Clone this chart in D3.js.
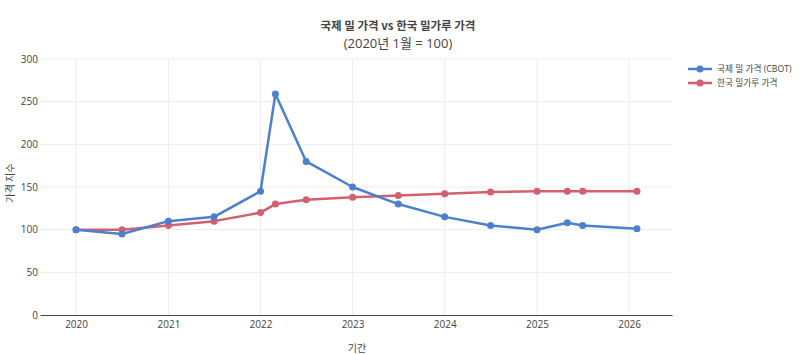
<!DOCTYPE html>
<html>
<head>
<meta charset="utf-8">
<script src="https://cdn.jsdelivr.net/npm/d3@7"></script>
<style>
  body { margin: 0; background: #fff; }
  svg text { font-family: "Open Sans", "Noto Sans CJK KR", sans-serif; fill: #444; }
  svg text.kr { font-family: "Noto Sans CJK KR", "Open Sans", sans-serif; }
</style>
</head>
<body>
<div id="chart"></div>
<script>
// data
var dates = ["2020-01", "2020-07", "2021-01", "2021-07", "2022-01", "2022-03", "2022-07",
  "2023-01", "2023-07", "2024-01", "2024-07", "2025-01", "2025-05", "2025-07", "2026-02"];
var cbot = [100, 95, 110, 115, 145, 259, 180, 150, 130, 115, 105, 100, 108, 105, 101];
var korea = [100, 100, 105, 110, 120, 130, 135, 138, 140, 142, 144, 145, 145, 145, 145];
var seriesNames = ["국제 밀 가격 (CBOT)", "한국 밀가루 가격"];
var seriesColors = ["#4c80cd", "#d2606f"];
var yTicks = [0, 50, 100, 150, 200, 250, 300];
var xTickYears = [2020, 2021, 2022, 2023, 2024, 2025, 2026];

var W = 800, H = 354;
var margin = { top: 59, right: 128, bottom: 39, left: 40 };
var width = W - margin.left - margin.right;
var height = H - margin.top - margin.bottom;

var parse = d3.timeParse("%Y-%m");

var svg = d3.select("#chart").append("svg")
  .attr("width", W)
  .attr("height", H);

var g = svg.append("g")
  .attr("transform", `translate(${margin.left}, ${margin.top})`);

var x = d3.scaleTime()
  .domain([new Date(2019, 7, 11), new Date(2026, 5, 20)])
  .range([0, width]);

var y = d3.scaleLinear()
  .domain([0, 300])
  .range([height, 0]);

// grid lines
g.selectAll(".ygrid")
  .data(yTicks.filter(d => d > 0))
  .join("line")
  .attr("x1", 0).attr("x2", width)
  .attr("y1", d => y(d)).attr("y2", d => y(d))
  .attr("stroke", "#ededed").attr("stroke-width", 1);

g.selectAll(".xgrid")
  .data(xTickYears)
  .join("line")
  .attr("x1", d => x(new Date(d, 0, 1))).attr("x2", d => x(new Date(d, 0, 1)))
  .attr("y1", 0).attr("y2", height)
  .attr("stroke", "#ededed").attr("stroke-width", 1);

// x axis
var xAxis = d3.axisBottom(x)
  .tickValues(xTickYears.map(d => new Date(d, 0, 1)))
  .tickFormat(d3.timeFormat("%Y"))
  .tickSize(0)
  .tickPadding(6);

var xg = g.append("g")
  .attr("transform", `translate(0, ${height})`)
  .call(xAxis);
xg.select(".domain").attr("stroke", "#444").attr("stroke-width", 1);
xg.selectAll("text").attr("font-size", 10).style("fill", "#444");

// y axis
var yAxis = d3.axisLeft(y)
  .tickValues(yTicks)
  .tickSize(0)
  .tickPadding(2);

var yg = g.append("g").call(yAxis);
yg.select(".domain").remove();
yg.selectAll("text").attr("font-size", 10).style("fill", "#444");

// lines
var rows = dates.map((d, i) => ({ date: parse(d), a: cbot[i], b: korea[i] }));
var seriesData = [rows.map(r => ({ date: r.date, v: r.a })), rows.map(r => ({ date: r.date, v: r.b }))];

var line = d3.line()
  .x(d => x(d.date))
  .y(d => y(d.v));

[1, 0].forEach(function (k) {
  g.append("path")
    .datum(seriesData[k])
    .attr("fill", "none")
    .attr("stroke", seriesColors[k])
    .attr("stroke-width", 2.5)
    .attr("stroke-linejoin", "round")
    .attr("d", line);
  g.selectAll(".pt" + k)
    .data(seriesData[k])
    .join("circle")
    .attr("cx", d => x(d.date))
    .attr("cy", d => y(d.v))
    .attr("r", 3.5)
    .attr("fill", seriesColors[k]);
});

// title
svg.append("text")
  .attr("class", "kr")
  .attr("x", 398).attr("y", 30)
  .attr("text-anchor", "middle")
  .attr("font-size", 11.5)
  .attr("font-weight", "bold")
  .text("국제 밀 가격 vs 한국 밀가루 가격");
svg.append("text")
  .attr("x", 398).attr("y", 48)
  .attr("text-anchor", "middle")
  .attr("font-size", 13)
  .text("(2020년 1월 = 100)");

// axis titles
svg.append("text")
  .attr("class", "kr")
  .attr("x", 357).attr("y", 352)
  .attr("text-anchor", "middle")
  .attr("font-size", 10)
  .text("기간");
svg.append("text")
  .attr("class", "kr")
  .attr("transform", "translate(14, 183) rotate(-90)")
  .attr("text-anchor", "middle")
  .attr("font-size", 10)
  .text("가격 지수");

// legend
var legend = svg.append("g").attr("transform", "translate(688, 69)");
seriesNames.forEach(function (name, i) {
  var lg = legend.append("g").attr("transform", `translate(0, ${i * 14})`);
  lg.append("line")
    .attr("x1", 0).attr("x2", 24)
    .attr("stroke", seriesColors[i]).attr("stroke-width", 2.5);
  lg.append("circle")
    .attr("cx", 12).attr("r", 3.5)
    .attr("fill", seriesColors[i]);
  lg.append("text")
    .attr("x", 29).attr("dy", "0.35em")
    .attr("font-size", 8.7)
    .text(name);
});
</script>
</body>
</html>
